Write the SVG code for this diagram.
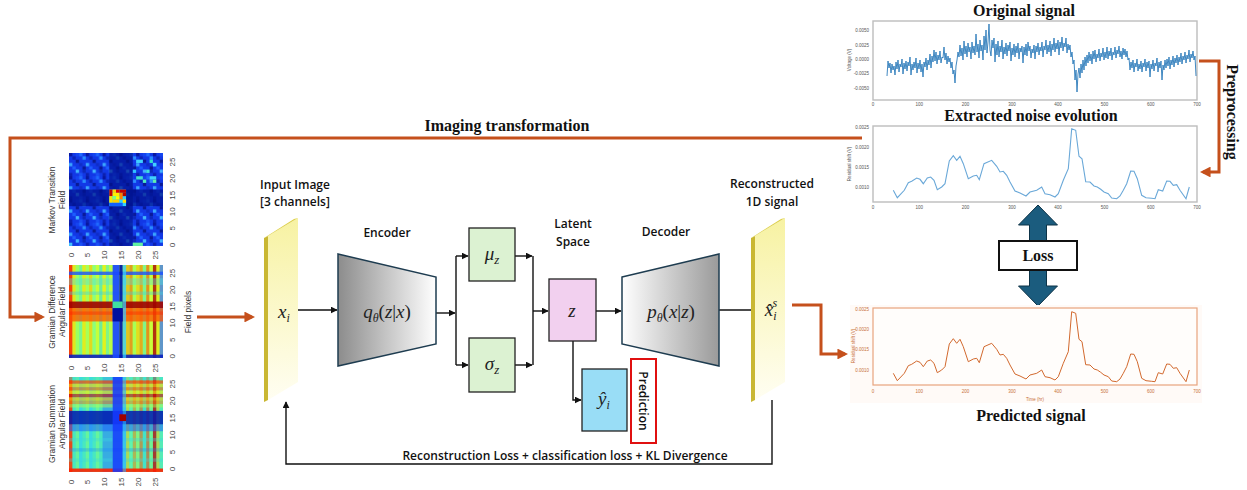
<svg xmlns="http://www.w3.org/2000/svg" xmlns:xlink="http://www.w3.org/1999/xlink" width="1247" height="490" viewBox="0 0 1247 490">
<style>
.lbl{font-family:"Open Sans","Liberation Sans",sans-serif;font-weight:600;font-size:12px;fill:#111;text-anchor:middle}
.math{font-family:"Liberation Serif","DejaVu Serif",serif;font-style:italic;font-size:19px;fill:#222;text-anchor:middle}
.up{font-style:normal}
.ttl{font-family:"Liberation Serif","DejaVu Serif",serif;font-weight:bold;font-size:16px;fill:#111;text-anchor:middle}
.tick{font-family:"Liberation Sans",sans-serif;font-size:4.5px;fill:#555}
.ptick{font-family:"Liberation Sans",sans-serif;font-size:4.5px;fill:#c8703a}
.hmt{font-family:"Liberation Sans",sans-serif;font-size:8px;fill:#444;text-anchor:middle}
.hml{font-family:"Liberation Sans",sans-serif;font-size:8.5px;fill:#333;text-anchor:middle}
.conn{stroke:#111;stroke-width:1.4;fill:none}
.org{stroke:#c5501c;stroke-width:3;fill:none}
.box{stroke:#222;stroke-width:1.3}
.frame{fill:#fff;stroke:#bdbdbd;stroke-width:1.4}
</style>
<defs>
<marker id="ah" viewBox="0 0 10 10" refX="9" refY="5" markerWidth="5" markerHeight="5" orient="auto" markerUnits="strokeWidth"><path d="M0,0 L10,5 L0,10 z" fill="#111"/></marker>
<marker id="oh" viewBox="0 0 10 10" refX="7" refY="5" markerWidth="3.6" markerHeight="3.6" orient="auto" markerUnits="strokeWidth"><path d="M0,0 L10,5 L0,10 z" fill="#c5501c"/></marker>
<linearGradient id="encG" x1="0" y1="0" x2="1" y2="0"><stop offset="0" stop-color="#8c8c8c"/><stop offset="1" stop-color="#ffffff"/></linearGradient>
<linearGradient id="decG" x1="0" y1="0" x2="1" y2="0"><stop offset="0" stop-color="#ffffff"/><stop offset="1" stop-color="#9a9a9a"/></linearGradient>
<linearGradient id="slabG" x1="0" y1="0" x2="0" y2="1"><stop offset="0" stop-color="#f7f2a2"/><stop offset="1" stop-color="#fffef2"/></linearGradient>
<pattern id="mtfPat" patternUnits="userSpaceOnUse" width="5" height="7">
<rect width="5" height="7" fill="#1238e6"/>
<rect x="0" y="0" width="1" height="1" fill="#0818a0"/><rect x="3" y="0" width="1" height="1" fill="#1f6aff"/><rect x="2" y="0" width="1" height="1" fill="#1545f0"/>
<rect x="1" y="1" width="1" height="1" fill="#0b24b8"/><rect x="4" y="1" width="1" height="1" fill="#2a8dff"/>
<rect x="2" y="2" width="1" height="1" fill="#0a1a95"/><rect x="0" y="3" width="1" height="1" fill="#3aa6ff"/>
<rect x="3" y="3" width="1" height="1" fill="#0f2cc8"/><rect x="1" y="4" width="1" height="1" fill="#1c5cff"/>
<rect x="4" y="4" width="1" height="1" fill="#0a1a9a"/><rect x="2" y="5" width="1" height="1" fill="#41b5ff"/>
<rect x="4" y="5" width="1" height="1" fill="#0d28bb"/><rect x="0" y="6" width="1" height="1" fill="#0c20b0"/><rect x="3" y="6" width="1" height="1" fill="#1a50f5"/>
</pattern>
<polyline id="noiseLine" fill="none" points="893.3,373.3 897.3,380.7 904.3,373.3 908.3,365.7 911.7,364.3 916.7,361 920,362.3 923.3,366.7 927.3,361 930.7,360 934,363.3 937.3,372.7 941.7,370 945,366.7 949.3,344 953.3,338.7 956.7,343.3 960,339.3 963.3,346.7 968.3,361.7 973.3,359 976.7,358.3 979.3,362.7 984,346.7 991.7,343.3 996.7,349.3 1000,355 1003.3,354.3 1006.7,358.3 1010,365 1015,374 1020,376 1026,379 1030,375 1036.7,373.3 1041.7,370 1045,376.7 1050,377.7 1055,380 1058.3,376.7 1063.3,363.3 1068.3,351.7 1071.7,311.7 1075.7,313.3 1079,339.3 1082,341.7 1085.7,364.7 1090,365 1094,369 1097.3,370 1100.7,372.3 1104,375 1108.3,376.7 1111.7,381 1116.7,381.7 1120,379 1123.3,373.3 1126.7,366.7 1130.7,354 1134,354.3 1137.3,361.7 1141.7,378.3 1146,380.7 1151.7,381.3 1155,381.7 1158.3,372.7 1162.7,374 1166.7,364 1170,364.3 1173.3,368.3 1176.7,367.7 1180,373.3 1186,381.7 1189.3,370"/>
</defs>

<!-- Heatmaps -->
<g id="heatmap-mtf">
<g transform="translate(69,153) scale(3.357,3.32)">
<rect width="28" height="28" fill="url(#mtfPat)"/>
<rect x="0" y="11" width="28" height="5" fill="#00108a" opacity="0.72"/>
<rect x="12" y="0" width="7" height="28" fill="#00108a" opacity="0.68"/>
<rect x="12" y="11" width="5" height="5" fill="#30d0ff"/>
<rect x="12" y="11" width="1" height="2" fill="#c00000"/><rect x="13" y="11" width="1" height="1" fill="#ffd000"/><rect x="14" y="11" width="1" height="1" fill="#e00000"/><rect x="15" y="11" width="2" height="1" fill="#c00000"/>
<rect x="13" y="12" width="2" height="1" fill="#ffee00"/><rect x="15" y="12" width="1" height="2" fill="#ff8000"/><rect x="16" y="12" width="1" height="1" fill="#b00000"/>
<rect x="12" y="13" width="1" height="2" fill="#ffe000"/><rect x="13" y="13" width="1" height="1" fill="#80ff80"/><rect x="14" y="13" width="1" height="1" fill="#ffff00"/>
<rect x="13" y="14" width="2" height="1" fill="#ffd000"/><rect x="16" y="14" width="1" height="1" fill="#ffe000"/><rect x="12" y="15" width="4" height="1" fill="#1060ff"/>
<rect x="20" y="2" width="2" height="1" fill="#40d0ff"/><rect x="24" y="2" width="1" height="1" fill="#30e0d0"/><rect x="25" y="3" width="1" height="1" fill="#40d0ff"/>
<rect x="19" y="5" width="1" height="1" fill="#30c0ff"/><rect x="23" y="5" width="1" height="1" fill="#40e0e0"/>
<rect x="20" y="7" width="2" height="1" fill="#40e0d0"/><rect x="22" y="8" width="1" height="1" fill="#50e8c0"/><rect x="24" y="7" width="2" height="1" fill="#40d0ff"/><rect x="25" y="8" width="1" height="1" fill="#60f0b0"/>
<rect x="19" y="27" width="3" height="1" fill="#60f0a0"/><rect x="0" y="27" width="1" height="1" fill="#40c0ff"/>
</g>
<text class="hml" transform="translate(55,200) rotate(-90)">Markov Transition</text>
<text class="hml" transform="translate(65,200) rotate(-90)">Field</text>
<g class="hmt">
<text transform="translate(172,245) rotate(-90)" dy="0.35em">0</text><text transform="translate(172,228.4) rotate(-90)" dy="0.35em">5</text><text transform="translate(172,211.8) rotate(-90)" dy="0.35em">10</text><text transform="translate(172,195.2) rotate(-90)" dy="0.35em">15</text><text transform="translate(172,178.6) rotate(-90)" dy="0.35em">20</text><text transform="translate(172,162) rotate(-90)" dy="0.35em">25</text>
<text transform="translate(70.7,255) rotate(-90)" dy="0.35em">0</text><text transform="translate(87.5,255) rotate(-90)" dy="0.35em">5</text><text transform="translate(104.3,255) rotate(-90)" dy="0.35em">10</text><text transform="translate(121.1,255) rotate(-90)" dy="0.35em">15</text><text transform="translate(137.9,255) rotate(-90)" dy="0.35em">20</text><text transform="translate(154.7,255) rotate(-90)" dy="0.35em">25</text>
</g>
</g>

<g id="heatmap-gadf">
<g transform="translate(69,265) scale(3.357,3.32)">
<rect width="28" height="28" fill="#b4ff4a"/>
<g opacity="0.6">
<rect x="1" y="0" width="1" height="28" fill="#ffd800"/><rect x="2" y="0" width="1" height="28" fill="#8cff70"/><rect x="3" y="0" width="1" height="28" fill="#50f0c0"/><rect x="4" y="0" width="1" height="28" fill="#ffe000"/>
<rect x="5" y="0" width="1" height="28" fill="#a0ff60"/><rect x="6" y="0" width="1" height="28" fill="#ffc000"/><rect x="7" y="0" width="1" height="28" fill="#70ffa0"/><rect x="8" y="0" width="1" height="28" fill="#d0ff30"/>
<rect x="9" y="0" width="1" height="28" fill="#40e0d0"/><rect x="10" y="0" width="1" height="28" fill="#ffea00"/><rect x="11" y="0" width="1" height="28" fill="#60f0b0"/><rect x="12" y="0" width="1" height="28" fill="#c0ff40"/>
<rect x="17" y="0" width="1" height="28" fill="#ffa000"/><rect x="18" y="0" width="1" height="28" fill="#ff6000"/><rect x="19" y="0" width="1" height="28" fill="#a0ff60"/><rect x="20" y="0" width="1" height="28" fill="#ffc800"/>
<rect x="21" y="0" width="1" height="28" fill="#ff7a00"/><rect x="22" y="0" width="1" height="28" fill="#60f0b0"/><rect x="23" y="0" width="1" height="28" fill="#ff4a00"/><rect x="24" y="0" width="1" height="28" fill="#d8ff30"/>
<rect x="26" y="0" width="1" height="28" fill="#ffe000"/>
</g>
<rect x="0" y="0" width="1" height="28" fill="#ff2000" opacity="0.85"/>
<rect x="25" y="0" width="1" height="28" fill="#b00000" opacity="0.8"/>
<rect x="27" y="0" width="1" height="28" fill="#3a6aff" opacity="0.7"/>
<rect x="0" y="2" width="28" height="1" fill="#1a50ff" opacity="0.8"/>
<rect x="0" y="4" width="28" height="2" fill="#50e0e0" opacity="0.4"/>
<rect x="0" y="8" width="28" height="1" fill="#40d0e0" opacity="0.4"/>
<rect x="0" y="11" width="28" height="2" fill="#a00000" opacity="0.9"/>
<rect x="0" y="13" width="28" height="4" fill="#ff5000" opacity="0.75"/>
<rect x="0" y="14" width="28" height="1" fill="#ff2000" opacity="0.4"/>
<rect x="0" y="27" width="28" height="1" fill="#0a20c0" opacity="0.9"/>
<rect x="13" y="0" width="2" height="28" fill="#1a48ff" opacity="0.93"/>
<rect x="15" y="0" width="1" height="28" fill="#0018a8" opacity="0.93"/>
<rect x="16" y="0" width="1" height="28" fill="#38c8ff" opacity="0.75"/>
<rect x="13" y="11" width="3" height="2" fill="#40e0a0"/>
<rect x="13" y="13" width="3" height="4" fill="#0010a0"/>
</g>
<text class="hml" transform="translate(55,312) rotate(-90)">Gramian Difference</text>
<text class="hml" transform="translate(65,312) rotate(-90)">Angular Field</text>
<text class="hml" transform="translate(191,312) rotate(-90)">Field pixels</text>
<g class="hmt">
<text transform="translate(172,356.3) rotate(-90)" dy="0.35em">0</text><text transform="translate(172,339.7) rotate(-90)" dy="0.35em">5</text><text transform="translate(172,323.1) rotate(-90)" dy="0.35em">10</text><text transform="translate(172,306.5) rotate(-90)" dy="0.35em">15</text><text transform="translate(172,289.9) rotate(-90)" dy="0.35em">20</text><text transform="translate(172,273.3) rotate(-90)" dy="0.35em">25</text>
<text transform="translate(70.7,368) rotate(-90)" dy="0.35em">0</text><text transform="translate(87.5,368) rotate(-90)" dy="0.35em">5</text><text transform="translate(104.3,368) rotate(-90)" dy="0.35em">10</text><text transform="translate(121.1,368) rotate(-90)" dy="0.35em">15</text><text transform="translate(137.9,368) rotate(-90)" dy="0.35em">20</text><text transform="translate(154.7,368) rotate(-90)" dy="0.35em">25</text>
</g>
</g>

<g id="heatmap-gasf">
<g transform="translate(69,377) scale(3.357,3.39)">
<rect width="28" height="28" fill="#48e8c0"/>
<g opacity="0.55">
<rect x="2" y="0" width="1" height="28" fill="#80ff80"/><rect x="3" y="0" width="1" height="28" fill="#30d0ff"/><rect x="5" y="0" width="1" height="28" fill="#80ff80"/><rect x="6" y="0" width="1" height="28" fill="#30d0ff"/>
<rect x="8" y="0" width="1" height="28" fill="#80ff80"/><rect x="10" y="0" width="3" height="28" fill="#2a7cff"/>
<rect x="17" y="0" width="1" height="28" fill="#ffd000"/><rect x="18" y="0" width="1" height="28" fill="#70ffa0"/><rect x="19" y="0" width="1" height="28" fill="#ff9000"/><rect x="20" y="0" width="1" height="28" fill="#b0ff50"/>
<rect x="21" y="0" width="1" height="28" fill="#ff6000"/><rect x="22" y="0" width="1" height="28" fill="#40e0d0"/><rect x="23" y="0" width="1" height="28" fill="#ff4000"/><rect x="24" y="0" width="1" height="28" fill="#90ff70"/>
<rect x="26" y="0" width="1" height="28" fill="#ffd000"/><rect x="27" y="0" width="1" height="28" fill="#60f0b0"/>
</g>
<rect x="0" y="0" width="1" height="28" fill="#ff3000" opacity="0.85"/>
<rect x="25" y="0" width="1" height="28" fill="#c00000" opacity="0.75"/>
<rect x="0" y="0" width="28" height="1" fill="#40e0d0" opacity="0.5"/>
<rect x="0" y="1" width="28" height="1" fill="#ff4000" opacity="0.7"/>
<rect x="0" y="2" width="28" height="1" fill="#ffd000" opacity="0.6"/>
<rect x="0" y="3" width="28" height="1" fill="#ff6000" opacity="0.6"/>
<rect x="0" y="4" width="28" height="1" fill="#ffee00" opacity="0.6"/>
<rect x="0" y="5" width="28" height="1" fill="#d00000" opacity="0.6"/>
<rect x="0" y="6" width="28" height="1" fill="#ffc000" opacity="0.6"/>
<rect x="0" y="7" width="28" height="1" fill="#ff8000" opacity="0.5"/>
<rect x="0" y="8" width="28" height="1" fill="#b0ff50" opacity="0.5"/>
<rect x="0" y="10" width="28" height="4" fill="#0018b0" opacity="0.85"/>
<rect x="0" y="14" width="28" height="2" fill="#1f60ff" opacity="0.55"/>
<rect x="0" y="18" width="28" height="1" fill="#40d8e0" opacity="0.35"/>
<rect x="0" y="21" width="28" height="1" fill="#1f80ff" opacity="0.3"/>
<rect x="0" y="24" width="28" height="1" fill="#40d8e0" opacity="0.35"/>
<rect x="0" y="27" width="28" height="1" fill="#ff2000" opacity="0.9"/>
<rect x="13" y="0" width="3" height="28" fill="#1538ff" opacity="0.88"/>
<rect x="16" y="0" width="1" height="28" fill="#30b0ff" opacity="0.6"/>
<rect x="15" y="11" width="2" height="2" fill="#a00000"/>
</g>
<text class="hml" transform="translate(55,424) rotate(-90)">Gramian Summation</text>
<text class="hml" transform="translate(65,424) rotate(-90)">Angular Field</text>
<g class="hmt">
<text transform="translate(172,469) rotate(-90)" dy="0.35em">0</text><text transform="translate(172,452) rotate(-90)" dy="0.35em">5</text><text transform="translate(172,435) rotate(-90)" dy="0.35em">10</text><text transform="translate(172,418) rotate(-90)" dy="0.35em">15</text><text transform="translate(172,401) rotate(-90)" dy="0.35em">20</text><text transform="translate(172,384) rotate(-90)" dy="0.35em">25</text>
<text transform="translate(70.7,482) rotate(-90)" dy="0.35em">0</text><text transform="translate(87.5,482) rotate(-90)" dy="0.35em">5</text><text transform="translate(104.3,482) rotate(-90)" dy="0.35em">10</text><text transform="translate(121.1,482) rotate(-90)" dy="0.35em">15</text><text transform="translate(137.9,482) rotate(-90)" dy="0.35em">20</text><text transform="translate(154.7,482) rotate(-90)" dy="0.35em">25</text>
</g>
</g>

<!-- Connectors -->
<g id="connectors">
<path class="org" d="M862,138 H10 V317 H42" marker-end="url(#oh)"/>
<path class="org" d="M197,317 H252" marker-end="url(#oh)"/>
<path class="org" d="M792,305 H821 V354 H845" marker-end="url(#oh)"/>
<path class="org" d="M1199,61 H1219 V172 H1203" marker-end="url(#oh)"/>
<path class="conn" d="M298,310 H337" marker-end="url(#ah)"/>
<path class="conn" d="M436,313 H455" marker-end="url(#ah)"/>
<path class="conn" d="M456,256 V365"/>
<path class="conn" d="M456,256 H468" marker-end="url(#ah)"/>
<path class="conn" d="M456,365 H468" marker-end="url(#ah)"/>
<path class="conn" d="M515,256 H532" marker-end="url(#ah)"/>
<path class="conn" d="M515,365 H532" marker-end="url(#ah)"/>
<path class="conn" d="M533,256 V365"/>
<path class="conn" d="M533,311 H548" marker-end="url(#ah)"/>
<path class="conn" d="M596,311 H621" marker-end="url(#ah)"/>
<path class="conn" d="M573,341 V400 H581" marker-end="url(#ah)"/>
<path class="conn" d="M719,310 H758" marker-end="url(#ah)"/>
<path class="conn" d="M772,400 V464 H286 V402" marker-end="url(#ah)"/>
</g>

<text id="imaging-label" class="ttl" x="507" y="131">Imaging transformation</text>
<text id="loss-label" class="lbl" x="565" y="460">Reconstruction Loss + classification loss + KL Divergence</text>

<g id="input-image">
<polygon points="268,236 298,218 298,382 268,400" fill="url(#slabG)"/>
<polygon points="264,238 268,236 268,400 264,402" fill="#c9b733"/>
<polygon points="264,238 294,219 298,218 268,236" fill="#ddd04a"/>
<text class="lbl" x="295" y="189">Input Image</text>
<text class="lbl" x="295" y="206">[3 channels]</text>
<text class="math" x="284" y="318">x<tspan font-size="12" dy="4">i</tspan></text>
</g>

<g id="encoder">
<polygon points="338,254 436,277 436,344 338,366" fill="url(#encG)" stroke="#1e3c50" stroke-width="1.5"/>
<text class="lbl" x="387" y="237">Encoder</text>
<text class="math" x="387" y="318">q<tspan font-size="12" dy="4">θ</tspan><tspan class="up" dy="-4">(</tspan>z<tspan class="up">|</tspan>x<tspan class="up">)</tspan></text>
</g>

<g id="mu">
<rect class="box" x="469" y="228" width="46" height="53" fill="#dcf2d2"/>
<text class="math" x="492" y="260">μ<tspan font-size="13" dy="4">z</tspan></text>
</g>
<g id="sigma">
<rect class="box" x="469" y="338" width="46" height="54" fill="#dcf2d2"/>
<text class="math" x="492" y="370">σ<tspan font-size="13" dy="4">z</tspan></text>
</g>

<g id="latent">
<text class="lbl" x="573" y="228">Latent</text>
<text class="lbl" x="573" y="246">Space</text>
<rect class="box" x="549" y="279" width="47" height="62" fill="#f2d0ef"/>
<text class="math" x="572" y="317">z</text>
</g>

<g id="yhat">
<rect class="box" x="582" y="369" width="45" height="62" fill="#99ddf6"/>
<text class="math" x="604" y="405">ŷ<tspan font-size="12" dy="4">i</tspan></text>
</g>

<g id="prediction">
<rect x="631" y="359" width="25" height="84" fill="#fff" stroke="#e01010" stroke-width="2"/>
<text class="lbl" transform="translate(639,401) rotate(90)" font-weight="700" font-size="12">Prediction</text>
</g>

<g id="decoder">
<polygon points="622,277 719,254 719,366 622,344" fill="url(#decG)" stroke="#1e3c50" stroke-width="1.5"/>
<text class="lbl" x="666" y="236">Decoder</text>
<text class="math" x="671" y="318">p<tspan font-size="12" dy="4">θ</tspan><tspan class="up" dy="-4">(</tspan>x<tspan class="up">|</tspan>z<tspan class="up">)</tspan></text>
</g>

<g id="reconstructed">
<polygon points="755,236 785,218 785,382 755,400" fill="url(#slabG)"/>
<polygon points="751,238 755,236 755,400 751,402" fill="#c9b733"/>
<polygon points="751,238 781,219 785,218 755,236" fill="#ddd04a"/>
<text class="lbl" x="772" y="188">Reconstructed</text>
<text class="lbl" x="772" y="206">1D signal</text>
<text class="math" x="771" y="316">x&#x302;<tspan font-size="12" dy="4">i</tspan><tspan font-size="12" dx="-4" dy="-13">s</tspan></text>
</g>

<g id="original-signal">
<text class="ttl" x="1024" y="16">Original signal</text>
<rect class="frame" x="873" y="21" width="324" height="79"/>
<g class="tick" text-anchor="end">
<text x="869" y="31.5">0.0050</text><text x="869" y="46.5">0.0025</text><text x="869" y="60.5">0.0000</text><text x="869" y="74.5">-0.0025</text><text x="869" y="89.5">-0.0050</text>
</g>
<text class="tick" transform="translate(851,60) rotate(-90)" text-anchor="middle">Voltage (V)</text>
<g class="tick" text-anchor="middle">
<text x="873" y="106">0</text><text x="919.3" y="106">100</text><text x="965.6" y="106">200</text><text x="1011.9" y="106">300</text><text x="1058.1" y="106">400</text><text x="1104.4" y="106">500</text><text x="1150.7" y="106">600</text><text x="1197" y="106">700</text>
</g>
<polyline fill="none" stroke="#2b7bba" stroke-width="0.9" points="887,76 888,61 889,68 890,63 891,73 892,64 893,70 894,66 895,75 896,62 897,69 898,60 899,72 900,64 901,67 902,59 903,74 904,63 905,69 906,61 907,71 908,62 909,66 910,57 911,75 912,64 913,70 914,62 915,68 916,58 917,73 918,63 919,69 920,60 921,72 922,64 923,77 924,62 925,67 926,58 927,70 928,60 929,65 930,54 931,68 932,56 933,62 934,50 935,61 936,52 937,64 938,55 939,60 940,51 941,63 942,57 943,58 944,47 945,60 946,53 947,64 948,56 949,62 950,58 951,68 952,62 953,74 954,70 955,83 956,66 957,60 958,52 959,57 960,45 961,56 962,48 963,60 964,41 965,54 966,46 967,57 968,43 969,52 970,47 971,59 972,42 973,53 974,46 975,55 976,34 977,52 978,44 979,58 980,40 981,51 982,45 983,60 984,36 985,50 986,30 987,53 988,42 989,24 990,50 991,56 992,40 993,48 994,38 995,62 996,44 997,55 998,41 999,57 1000,46 1001,52 1002,40 1003,59 1004,47 1005,54 1006,43 1007,56 1008,45 1009,51 1010,42 1011,61 1012,48 1013,55 1014,44 1015,57 1016,46 1017,53 1018,43 1019,59 1020,48 1021,52 1022,46 1023,63 1024,47 1025,55 1026,44 1027,56 1028,42 1029,51 1030,46 1031,58 1032,49 1033,53 1034,45 1035,59 1036,46 1037,52 1038,43 1039,55 1040,47 1041,51 1042,42 1043,57 1044,46 1045,50 1046,40 1047,54 1048,45 1049,52 1050,41 1051,56 1052,44 1053,50 1054,38 1055,52 1056,43 1057,49 1058,40 1059,55 1060,42 1061,48 1062,37 1063,51 1064,43 1065,47 1066,38 1067,53 1068,44 1069,50 1070,45 1071,57 1072,52 1073,64 1074,60 1075,80 1076,70 1077,92 1078,74 1079,68 1080,78 1081,64 1082,73 1083,60 1084,70 1085,57 1086,66 1087,55 1088,63 1089,52 1090,61 1091,54 1092,64 1093,51 1094,59 1095,50 1096,62 1097,54 1098,58 1099,49 1100,61 1101,53 1102,57 1103,48 1104,60 1105,52 1106,58 1107,47 1108,59 1109,51 1110,56 1111,48 1112,60 1113,52 1114,55 1115,47 1116,58 1117,50 1118,54 1119,46 1120,57 1121,51 1122,59 1123,48 1124,55 1125,49 1126,57 1127,51 1128,60 1129,58 1130,70 1131,62 1132,68 1133,60 1134,72 1135,63 1136,67 1137,59 1138,71 1139,64 1140,69 1141,61 1142,72 1143,63 1144,67 1145,59 1146,71 1147,62 1148,68 1149,61 1150,77 1151,64 1152,69 1153,60 1154,71 1155,63 1156,66 1157,58 1158,72 1159,62 1160,68 1161,61 1162,80 1163,65 1164,70 1165,60 1166,68 1167,59 1168,66 1169,57 1170,69 1171,60 1172,65 1173,56 1174,67 1175,58 1176,63 1177,55 1178,65 1179,57 1180,62 1181,53 1182,64 1183,56 1184,60 1185,52 1186,63 1187,55 1188,59 1189,50 1190,62 1191,54 1192,58 1193,51 1194,60 1195,56 1196,76"/>
</g>

<g id="preprocessing">
<text class="ttl" transform="translate(1227,112) rotate(90)" font-size="15">Preprocessing</text>
</g>

<g id="noise-signal">
<text class="ttl" x="1031" y="121">Extracted noise evolution</text>
<rect class="frame" x="873" y="126" width="324" height="76"/>
<g class="tick" text-anchor="end">
<text x="869" y="128.5">0.0025</text><text x="869" y="148.5">0.0020</text><text x="869" y="168.5">0.0015</text><text x="869" y="188.5">0.0010</text>
</g>
<text class="tick" transform="translate(851,164) rotate(-90)" text-anchor="middle">Residual shift (V)</text>
<g class="tick" text-anchor="middle">
<text x="873" y="209">0</text><text x="919.3" y="209">100</text><text x="965.6" y="209">200</text><text x="1011.9" y="209">300</text><text x="1058.1" y="209">400</text><text x="1104.4" y="209">500</text><text x="1150.7" y="209">600</text><text x="1197" y="209">700</text>
</g>
<use xlink:href="#noiseLine" href="#noiseLine" transform="translate(0,-183)" stroke="#6aa8d8" stroke-width="1.1"/>
</g>

<g id="loss">
<polygon points="1038,205 1057.5,225 1046.5,225 1046.5,286 1057.5,286 1038,306 1018.5,286 1029.5,286 1029.5,225 1018.5,225" fill="#1b5c7e" stroke="#0d3347" stroke-width="1"/>
<rect x="999" y="241" width="78" height="29" fill="#fff" stroke="#111" stroke-width="2"/>
<text class="ttl" x="1038" y="261" font-size="17">Loss</text>
</g>

<g id="predicted-signal">
<rect x="850" y="305" width="352" height="98" fill="#fffaf7"/>
<rect x="873" y="308" width="324" height="77" fill="#fffdfb" stroke="#e8a47e" stroke-width="1.2"/>
<g class="ptick" text-anchor="end">
<text x="869" y="310.5">0.0025</text><text x="869" y="330.5">0.0020</text><text x="869" y="350.5">0.0015</text><text x="869" y="371.5">0.0010</text>
</g>
<text class="ptick" transform="translate(855,346) rotate(-90)" text-anchor="middle">Residual shift (V)</text>
<g class="ptick" text-anchor="middle">
<text x="873" y="393">0</text><text x="919.3" y="393">100</text><text x="965.6" y="393">200</text><text x="1011.9" y="393">300</text><text x="1058.1" y="393">400</text><text x="1104.4" y="393">500</text><text x="1150.7" y="393">600</text><text x="1197" y="393">700</text>
<text x="1035" y="401">Time (hr)</text>
</g>
<use xlink:href="#noiseLine" href="#noiseLine" stroke="#d2692e" stroke-width="1"/>
<text class="ttl" x="1031" y="421">Predicted signal</text>
</g>
</svg>
